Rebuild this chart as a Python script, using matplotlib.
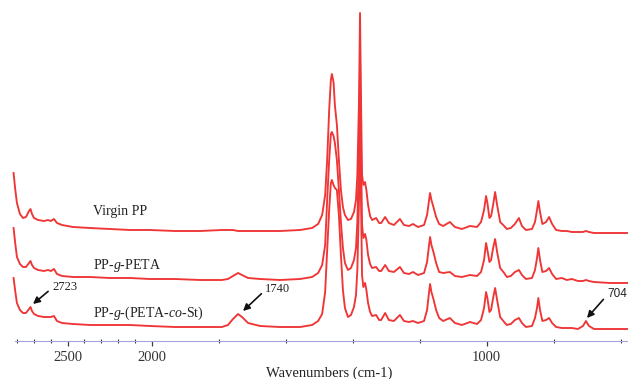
import numpy as np
import matplotlib
matplotlib.use("Agg")
import matplotlib.pyplot as plt

# spectra, offset intensity in arbitrary units
wavenumber = [2823, 2814, 2803, 2785, 2767, 2749, 2731, 2722, 2713, 2701,
              2677, 2641, 2618, 2600, 2582, 2564, 2534, 2468, 2367, 2248,
              2128, 2009, 1930, 1855, 1790, 1772, 1757, 1742, 1730, 1712,
              1676, 1617, 1557, 1521, 1503, 1491, 1482, 1476, 1470, 1465,
              1462, 1457, 1453, 1447, 1441, 1435, 1429, 1423, 1414, 1405,
              1396, 1390, 1386, 1381, 1378, 1375, 1372, 1368, 1363, 1359,
              1354, 1348, 1342, 1330, 1321, 1315, 1303, 1292, 1277, 1259,
              1247, 1232, 1220, 1205, 1187, 1178, 1172, 1169, 1165, 1159,
              1151, 1142, 1130, 1110, 1095, 1074, 1050, 1029, 1017, 1008,
              1002, 998, 992, 987, 981, 975, 969, 960, 948, 940,
              928, 916, 904, 895, 883, 865, 856, 850, 846, 841,
              834, 823, 814, 805, 793, 776, 761, 746, 728, 713,
              704, 695, 680, 632, 579]

virgin_pp = [168, 153, 138, 127, 123, 124, 130, 132, 127, 123,
             121, 120, 121, 120, 122, 118, 116, 114, 113, 112,
             111, 111, 110, 110, 111, 111, 111, 110, 110, 110,
             110, 110, 111, 113, 117, 126, 146, 181, 231, 261,
             267, 259, 236, 216, 181, 151, 134, 126, 121, 122,
             129, 141, 166, 241, 328, 241, 166, 156, 159, 151,
             136, 125, 121, 123, 118, 118, 124, 118, 116, 122,
             116, 115, 117, 114, 116, 126, 141, 148, 141, 134,
             124, 117, 115, 119, 114, 112, 115, 114, 119, 131,
             145, 138, 123, 125, 136, 149, 136, 119, 115, 112,
             113, 117, 123, 115, 111, 112, 119, 131, 140, 129,
             117, 119, 124, 117, 111, 110, 110, 109, 109, 109,
             110, 109, 108, 108, 108]

pp_g_peta = [113, 99, 84, 77, 74, 74, 78, 80, 76, 73,
             71, 70, 71, 70, 72, 67, 65, 64, 64, 63,
             63, 62, 62, 61, 61, 62, 65, 68, 66, 63,
             62, 61, 62, 64, 68, 76, 96, 141, 181, 207,
             209, 205, 198, 181, 151, 119, 93, 78, 71, 73,
             81, 93, 119, 191, 279, 191, 116, 103, 107, 101,
             86, 77, 73, 74, 70, 70, 76, 70, 69, 74,
             68, 67, 69, 66, 68, 79, 96, 104, 96, 89,
             78, 69, 68, 69, 65, 64, 66, 65, 69, 81,
             98, 91, 79, 81, 93, 102, 89, 73, 68, 64,
             65, 69, 71, 66, 62, 63, 71, 83, 93, 81,
             69, 70, 73, 67, 62, 63, 61, 62, 60, 60,
             61, 60, 59, 58, 58]

pp_g_peta_co_st = [63, 51, 38, 31, 28, 28, 32, 34, 30, 27,
                   25, 24, 24, 24, 25, 20, 18, 17, 16, 16,
                   16, 15, 14, 14, 14, 16, 22, 27, 24, 18,
                   15, 14, 14, 16, 20, 27, 49, 91, 131, 158,
                   161, 156, 153, 151, 126, 86, 51, 33, 24, 26,
                   34, 46, 71, 141, 229, 141, 66, 54, 58, 51,
                   38, 29, 25, 26, 21, 21, 28, 21, 20, 26,
                   20, 19, 20, 18, 20, 31, 49, 57, 49, 42,
                   31, 23, 20, 23, 18, 16, 19, 17, 21, 33,
                   49, 43, 29, 31, 43, 53, 41, 24, 19, 16,
                   17, 21, 23, 18, 14, 15, 23, 33, 43, 31,
                   20, 21, 23, 18, 14, 13, 13, 13, 12, 15,
                   20, 15, 12, 12, 12]

major_ticks = [2500, 2000, 1000]
minor_ticks = [2800, 2700, 2600, 2400, 2300, 2200, 2100,
               1800, 1600, 1400, 1200, 800, 600]


# axis is compressed by a factor two above 2000 cm-1
def fwd(w):
    w = np.asarray(w, dtype=float)
    return np.where(w > 2000, 2000 + (w - 2000) / 2.0, w)


def inv(u):
    u = np.asarray(u, dtype=float)
    return np.where(u > 2000, 2000 + (u - 2000) * 2.0, u)


plt.rcParams['font.family'] = 'Liberation Serif'
plt.rcParams['mathtext.fontset'] = 'custom'
plt.rcParams['mathtext.rm'] = 'Liberation Serif'
plt.rcParams['mathtext.it'] = 'Liberation Serif:italic'

fig = plt.figure(figsize=(6.28, 3.79), dpi=100)
ax = fig.add_axes([12.4 / 628, 38 / 379, 616.8 / 628, 341 / 379])
ax.set_xscale('function', functions=(fwd, inv))

red = '#ef3535'
for s in (virgin_pp, pp_g_peta, pp_g_peta_co_st):
    ax.plot(wavenumber, s, color=red, lw=1.35, solid_joinstyle='round')

ax.set_xlim(2830, 575)
ax.set_ylim(0, 341)

for side in ('left', 'top', 'right'):
    ax.spines[side].set_visible(False)
ax.spines['bottom'].set_color('#a4a4d8')
ax.spines['bottom'].set_bounds(2812, 575)
ax.set_yticks([])

ax.set_xticks(major_ticks)
ax.set_xticklabels([str(t) for t in major_ticks])
ax.set_xticks(minor_ticks, minor=True)
ax.tick_params(axis='x', which='major', direction='out', length=3.5, width=0.9,
               color='#3c3c58', labelsize=10.5, labelcolor='#333333', pad=3.5)
ax.tick_params(axis='x', which='minor', direction='inout', length=2.5, width=0.8,
               color='#3c3c58')

ax.set_xlabel('Wavenumbers (cm-1)', fontsize=10.5, color='#222222')
ax.xaxis.set_label_coords((329 - 12.4) / 616.8, -32 / 341)
ax.xaxis.label.set_va('center')

ax.text(2349, 129, 'Virgin PP', fontsize=10, va='center', ha='left', color='#222222')
ax.text(2349, 76, r'PP-$\mathit{g}$-PETA', fontsize=10, va='center', ha='left', color='#222222')
ax.text(2349, 28, r'PP-$\mathit{g}$-(PETA-$\mathit{co}$-St)', fontsize=10, va='center',
        ha='left', color='#222222')

arrow = dict(arrowstyle='-|>', color='#111111', lw=1.2, mutation_scale=10,
             shrinkA=1, shrinkB=0, relpos=(0, 0.4))
ax.annotate('2723', xy=(2707, 37), xytext=(2594, 54), fontsize=9, va='center',
            ha='left', color='#222222', arrowprops=arrow)
ax.annotate('1740', xy=(1727, 30), xytext=(1661, 52), fontsize=9, va='center',
            ha='left', color='#222222', arrowprops=arrow)
ax.annotate('704', xy=(701, 23), xytext=(641, 47), fontsize=8.5, va='center',
            ha='left', color='#222222', family='Liberation Sans', arrowprops=arrow)

fig.savefig('out.png', dpi=100)
